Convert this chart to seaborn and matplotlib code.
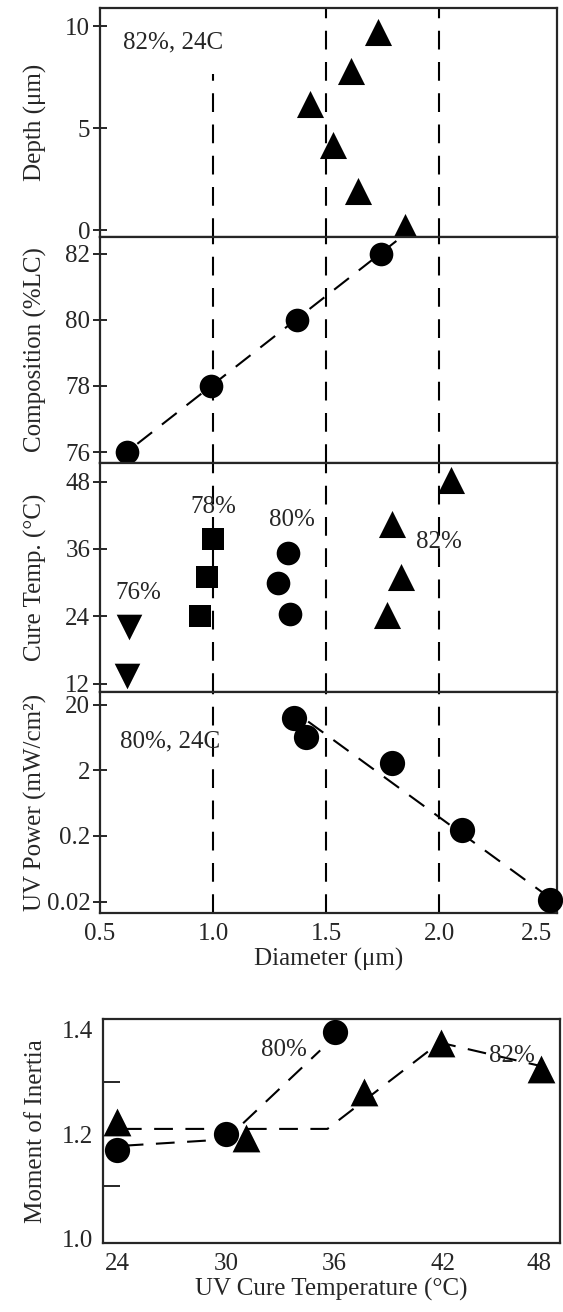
import matplotlib
matplotlib.use("Agg")
import matplotlib.pyplot as plt
import seaborn as sns
import pandas as pd
from matplotlib.ticker import FixedLocator, NullLocator

# ---------------- data ----------------
depth_diam = [1.73, 1.61, 1.43, 1.53, 1.64, 1.85]
depth_um = [9.7, 7.8, 6.2, 4.2, 1.9, 0.15]

comp_diam = [0.62, 0.99, 1.37, 1.74]
comp_pct = [76, 78, 80, 82]
comp_fit_diam = [0.665, 1.81]
comp_fit_pct = [76.25, 82.38]

cure76_diam = [0.63, 0.62]
cure76_temp = [22.0, 13.3]
cure78_diam = [0.94, 0.975, 1.0]
cure78_temp = [24.0, 31.0, 37.8]
cure80_diam = [1.33, 1.285, 1.34]
cure80_temp = [35.3, 29.9, 24.4]
cure82_diam = [1.77, 1.83, 1.79, 2.05]
cure82_temp = [24.3, 31.0, 40.5, 48.3]

uv_diam = [1.357, 1.41, 1.79, 2.10, 2.49]
uv_power = [12.5, 6.3, 2.56, 0.25, 0.021]
uv_fit_diam = [1.42, 2.52]
uv_fit_power = [11.0, 0.019]

moi80_temp = [24, 30, 36]
moi80 = [1.17, 1.20, 1.395]
moi82_temp = [24, 31.1, 37.6, 41.9, 47.4]
moi82 = [1.224, 1.193, 1.28, 1.375, 1.325]
fit80_temp = [24.4, 30.0, 35.2]
fit80 = [1.178, 1.19, 1.36]
fit82_temp = [24.3, 35.6, 41.8, 47.4]
fit82 = [1.21, 1.21, 1.375, 1.33]

diam_ticks = [0.5, 1.0, 1.5, 2.0, 2.5]
diam_ticklabels = ["0.5", "1.0", "1.5", "2.0", "2.5"]
depth_ticks = [0, 5, 10]
comp_ticks = [76, 78, 80, 82]
cure_ticks = [12, 24, 36, 48]
uv_ticks = [0.02, 0.2, 2, 20]
uv_ticklabels = ["0.02", "0.2", "2", "20"]
temp_ticks = [24, 30, 36, 42, 48]
temp_ticklabels = ["24", "30", "36", "42", "48"]
moi_ticks = [1.0, 1.2, 1.4]
moi_ticklabels = ["1.0", "1.2", "1.4"]
moi_minor = [1.1, 1.3]
guide_diam = [1.0, 1.5, 2.0]

# ---------------- style ----------------
sns.set_style("ticks")
plt.rcParams["font.family"] = ["Liberation Serif", "DejaVu Serif"]
plt.rcParams["axes.linewidth"] = 1.6
FS = 18

W, H = 563, 1312
fig = plt.figure(figsize=(W / 100, H / 100), dpi=100)

def box(l, t, r, b):
    return [l / W, 1 - b / H, (r - l) / W, (b - t) / H]

ax1 = fig.add_axes(box(100, 8, 557, 237))
ax2 = fig.add_axes(box(100, 237, 557, 463))
ax3 = fig.add_axes(box(100, 463, 557, 692))
ax4 = fig.add_axes(box(100, 692, 557, 913))
ax5 = fig.add_axes(box(103, 1019, 560, 1243))

DASH = (0, (9, 6))
LW = 1.5
k = "black"

for ax in (ax1, ax2, ax3, ax4):
    ax.set_xlim(0.51, 2.52)
    ax.set_xticks(diam_ticks)
    for xv in guide_diam:
        ymax = 0.71 if (ax is ax1 and xv == 1.0) else 1.0
        ax.axvline(xv, ymin=0, ymax=ymax, color=k, lw=LW, ls=DASH, zorder=1)
    ax.tick_params(axis="y", direction="inout", length=10, width=1.4,
                   labelsize=FS, pad=2)
    ax.tick_params(axis="x", length=0, labelsize=FS, pad=7)
    for s in ax.spines.values():
        s.set_linewidth(1.6)
    if ax is not ax4:
        ax.tick_params(axis="x", labelbottom=False)

# Panel 1: depth
sns.scatterplot(x=depth_diam, y=depth_um, ax=ax1, marker="^", s=380,
                color=k, edgecolor=k, linewidth=0, zorder=3, clip_on=False)
ax1.set_ylim(-0.34, 10.9)
ax1.set_yticks(depth_ticks)
ax1.set_ylabel("Depth (μm)", fontsize=FS)
ax1.text(0.6, 9.2, "82%, 24C", fontsize=FS, va="center", ha="left")

# Panel 2: composition
sns.lineplot(x=comp_fit_diam, y=comp_fit_pct, ax=ax2, color=k, lw=LW,
             ls=DASH, sort=False, estimator=None, zorder=2)
sns.scatterplot(x=comp_diam, y=comp_pct, ax=ax2, marker="o", s=290,
                color=k, edgecolor=k, linewidth=0, zorder=3)
ax2.set_ylim(75.67, 82.5)
ax2.set_yticks(comp_ticks)
ax2.set_ylabel("Composition (%LC)", fontsize=FS)

# Panel 3: cure temperature
sns.scatterplot(x=cure76_diam, y=cure76_temp, ax=ax3, marker="v", s=340,
                color=k, edgecolor=k, linewidth=0, zorder=3)
sns.scatterplot(x=cure78_diam, y=cure78_temp, ax=ax3, marker="s", s=240,
                color=k, edgecolor=k, linewidth=0, zorder=3)
sns.scatterplot(x=cure80_diam, y=cure80_temp, ax=ax3, marker="o", s=290,
                color=k, edgecolor=k, linewidth=0, zorder=3)
sns.scatterplot(x=cure82_diam, y=cure82_temp, ax=ax3, marker="^", s=380,
                color=k, edgecolor=k, linewidth=0, zorder=3)
ax3.set_ylim(10.5, 51.3)
ax3.set_yticks(cure_ticks)
ax3.set_ylabel("Cure Temp. (°C)", fontsize=FS)
ax3.text(0.67, 28.1, "76%", fontsize=FS, ha="center", va="center")
ax3.text(1.0, 43.5, "78%", fontsize=FS, ha="center", va="center")
ax3.text(1.35, 41.2, "80%", fontsize=FS, ha="center", va="center")
ax3.text(2.0, 37.3, "82%", fontsize=FS, ha="center", va="center")

# Panel 4: UV power
ax4.set_yscale("log")
sns.lineplot(x=uv_fit_diam, y=uv_fit_power, ax=ax4, color=k, lw=LW,
             ls=DASH, sort=False, estimator=None, zorder=2)
sns.scatterplot(x=uv_diam, y=uv_power, ax=ax4, marker="o", s=330,
                color=k, edgecolor=k, linewidth=0, zorder=3, clip_on=False)
ax4.set_ylim(0.0134, 31)
ax4.yaxis.set_major_locator(FixedLocator(uv_ticks))
ax4.set_yticklabels(uv_ticklabels)
ax4.yaxis.set_minor_locator(NullLocator())
ax4.set_xticklabels(diam_ticklabels)
ax4.get_xticklabels()[-1].set_horizontalalignment("right")
ax4.set_ylabel("UV Power (mW/cm²)", fontsize=FS)
ax4.set_xlabel("Diameter (μm)", fontsize=FS, labelpad=2)
ax4.text(0.59, 5.4, "80%, 24C", fontsize=FS, ha="left", va="center")

for ax in (ax1, ax2, ax3, ax4):
    ax.yaxis.set_label_coords(-0.115, 0.5)

# Panel 5: moment of inertia
sns.lineplot(x=fit80_temp, y=fit80, ax=ax5, color=k, lw=LW, ls=DASH,
             sort=False, estimator=None, zorder=2)
sns.lineplot(x=fit82_temp, y=fit82, ax=ax5, color=k, lw=LW, ls=DASH,
             sort=False, estimator=None, zorder=2)
sns.scatterplot(x=moi80_temp, y=moi80, ax=ax5, marker="o", s=330,
                color=k, edgecolor=k, linewidth=0, zorder=3, clip_on=False)
sns.scatterplot(x=moi82_temp, y=moi82, ax=ax5, marker="^", s=400,
                color=k, edgecolor=k, linewidth=0, zorder=3)
ax5.set_xlim(23.2, 48.45)
ax5.set_ylim(0.992, 1.42)
ax5.set_xticks(temp_ticks)
ax5.set_xticklabels(temp_ticklabels)
ax5.get_xticklabels()[-1].set_horizontalalignment("right")
ax5.set_yticks(moi_ticks)
ax5.set_yticklabels(moi_ticklabels)
ax5.yaxis.set_minor_locator(FixedLocator(moi_minor))
ax5.tick_params(axis="both", which="major", length=0, labelsize=FS, pad=7)
ax5.tick_params(axis="y", which="minor", direction="in", length=12, width=1.4)
ax5.tick_params(axis="x", which="minor", length=0)
for s in ax5.spines.values():
    s.set_linewidth(1.6)
ax5.set_ylabel("Moment of Inertia", fontsize=FS)
ax5.yaxis.set_label_coords(-0.123, 0.5)
ax5.set_xlabel("UV Cure Temperature (°C)", fontsize=FS, labelpad=2)
ax5.text(33.2, 1.36, "80%", fontsize=FS, ha="center", va="center")
ax5.text(45.8, 1.35, "82%", fontsize=FS, ha="center", va="center")

fig.savefig("out.png", dpi=100)
